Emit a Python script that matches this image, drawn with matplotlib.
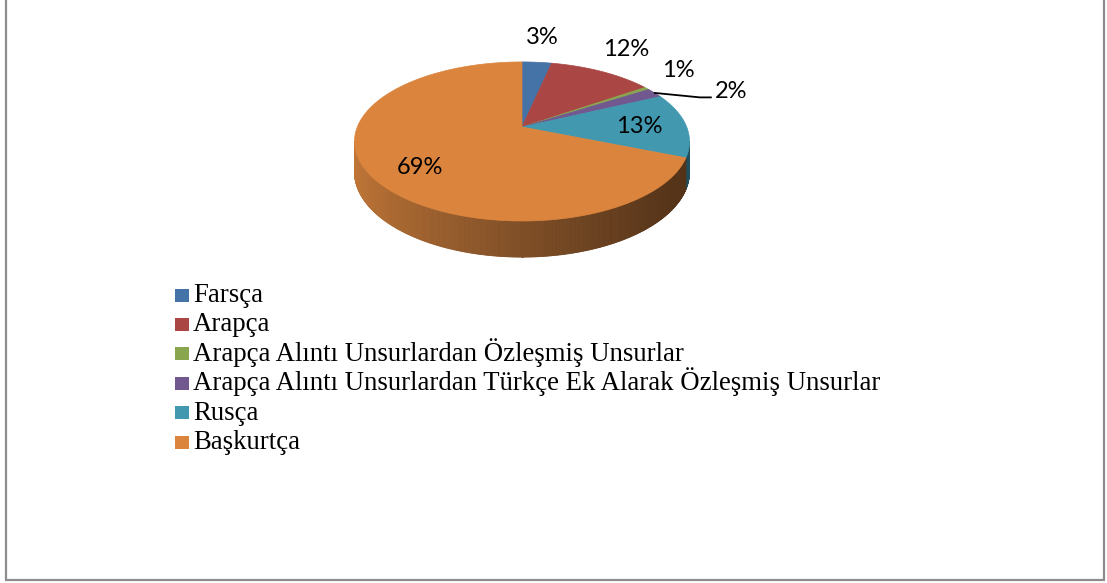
"""
3D pie chart: Başkurtça word origins
"""

import numpy as np
import matplotlib.pyplot as plt
from matplotlib.collections import PolyCollection
from matplotlib.patches import Polygon, Rectangle

# ==========================================
# Data
# ==========================================

categories = [
    "Farsça",
    "Arapça",
    "Arapça Alıntı Unsurlardan Özleşmiş Unsurlar",
    "Arapça Alıntı Unsurlardan Türkçe Ek Alarak Özleşmiş Unsurlar",
    "Rusça",
    "Başkurtça",
]

shares = [3.4, 12.0, 0.6, 2.0, 13.1, 68.9]

colors = ["#4572A7", "#AA4643", "#89A54E", "#71588F", "#4198AF", "#DB843D"]
side_light = [(70, 110, 150), (150, 60, 58), (120, 145, 70), (100, 78, 125), (45, 105, 120), (192, 118, 56)]
side_dark = [(30, 50, 75), (70, 30, 28), (60, 75, 35), (50, 40, 65), (34, 78, 92), (82, 50, 24)]

# label placement (radius in pie units, angle shift in degrees)
label_r = [1.48, 1.45, 1.39, 1.47, 0.71, 0.74]
label_shift = [0, -1.6, -4.5, 9.0, 1.6, -6.0]

# ==========================================
# Geometry
# ==========================================

W, H = 1107, 583
CX, CY = 522, 127
A, B, K = 164.7, 76.9, 0.182
DEPTH = 29.5


def project(theta, r=1.0, drop=0.0):
    u = r * np.sin(theta)
    v = r * np.cos(theta)
    w = 1 + K * v
    return CX + A * u / w, CY - B * v / w + drop / w


total = sum(shares)
bounds = np.concatenate([[0], np.cumsum(shares)]) / total * 2 * np.pi

fig = plt.figure(figsize=(W / 100, H / 100), dpi=100)
ax = fig.add_axes([0, 0, 1, 1])
ax.set_xlim(0, W)
ax.set_ylim(H, 0)
ax.axis("off")

# ==========================================
# Side wall
# ==========================================

t_right = np.arccos(-K)
t_left = 2 * np.pi - t_right
ts = np.linspace(t_right, t_left, 400)
x_min, x_max = CX - A / np.sqrt(1 - K**2), CX + A / np.sqrt(1 - K**2)

quads, qcolors = [], []
for t1, t2 in zip(ts[:-1], ts[1:]):
    idx = np.searchsorted(bounds, (t1 + t2) / 2) - 1
    xa, ya = project(t1)
    xb, yb = project(t2)
    xc, yc = project(t2, drop=DEPTH)
    xd, yd = project(t1, drop=DEPTH)
    quads.append([(xa, ya), (xb, yb), (xc, yc), (xd, yd)])
    f = np.clip(((xa + xb) / 2 - x_min) / (x_max - x_min), 0, 1) ** 0.75
    lo, hi = np.array(side_light[idx]), np.array(side_dark[idx])
    qcolors.append((lo * (1 - f) + hi * f) / 255)

ax.add_collection(PolyCollection(quads, facecolors=qcolors, edgecolors=qcolors, linewidths=0.6))

# ==========================================
# Top face
# ==========================================

for i, color in enumerate(colors):
    arc = np.linspace(bounds[i], bounds[i + 1], 120)
    xs, ys = project(arc)
    pts = [(CX, CY)] + list(zip(xs, ys))
    ax.add_patch(Polygon(pts, closed=True, facecolor=color, edgecolor=color, linewidth=0.5))

# ==========================================
# Data labels
# ==========================================

for i, s in enumerate(shares):
    mid = (bounds[i] + bounds[i + 1]) / 2
    lx, ly = project(mid + np.radians(label_shift[i]), label_r[i])
    ax.text(lx, ly, f"{round(s / total * 100)}%", ha="center", va="center",
            fontsize=17, family=["Lato", "DejaVu Sans"], color="black")
    if label_shift[i] > 5:
        ex, ey = project(mid, 1.0)
        ax.plot([ex, lx - 31, lx - 20], [ey, ly + 5.5, ly + 5.5], color="black", lw=1.3)

# ==========================================
# Legend
# ==========================================

for i, (name, color) in enumerate(zip(categories, colors)):
    y = 295 + i * 29.4
    ax.add_patch(Rectangle((175, y - 6.5), 14, 13, facecolor=color, edgecolor="none"))
    ax.text(193, y + 7, name, ha="left", va="baseline", fontsize=19.3,
            family="Liberation Serif", color="black")

# ==========================================
# Frame
# ==========================================

ax.add_patch(Rectangle((6, -10), 1098, 590, facecolor="none", edgecolor="#8c8c8c", linewidth=1.6))

fig.savefig("out.png", dpi=100)
